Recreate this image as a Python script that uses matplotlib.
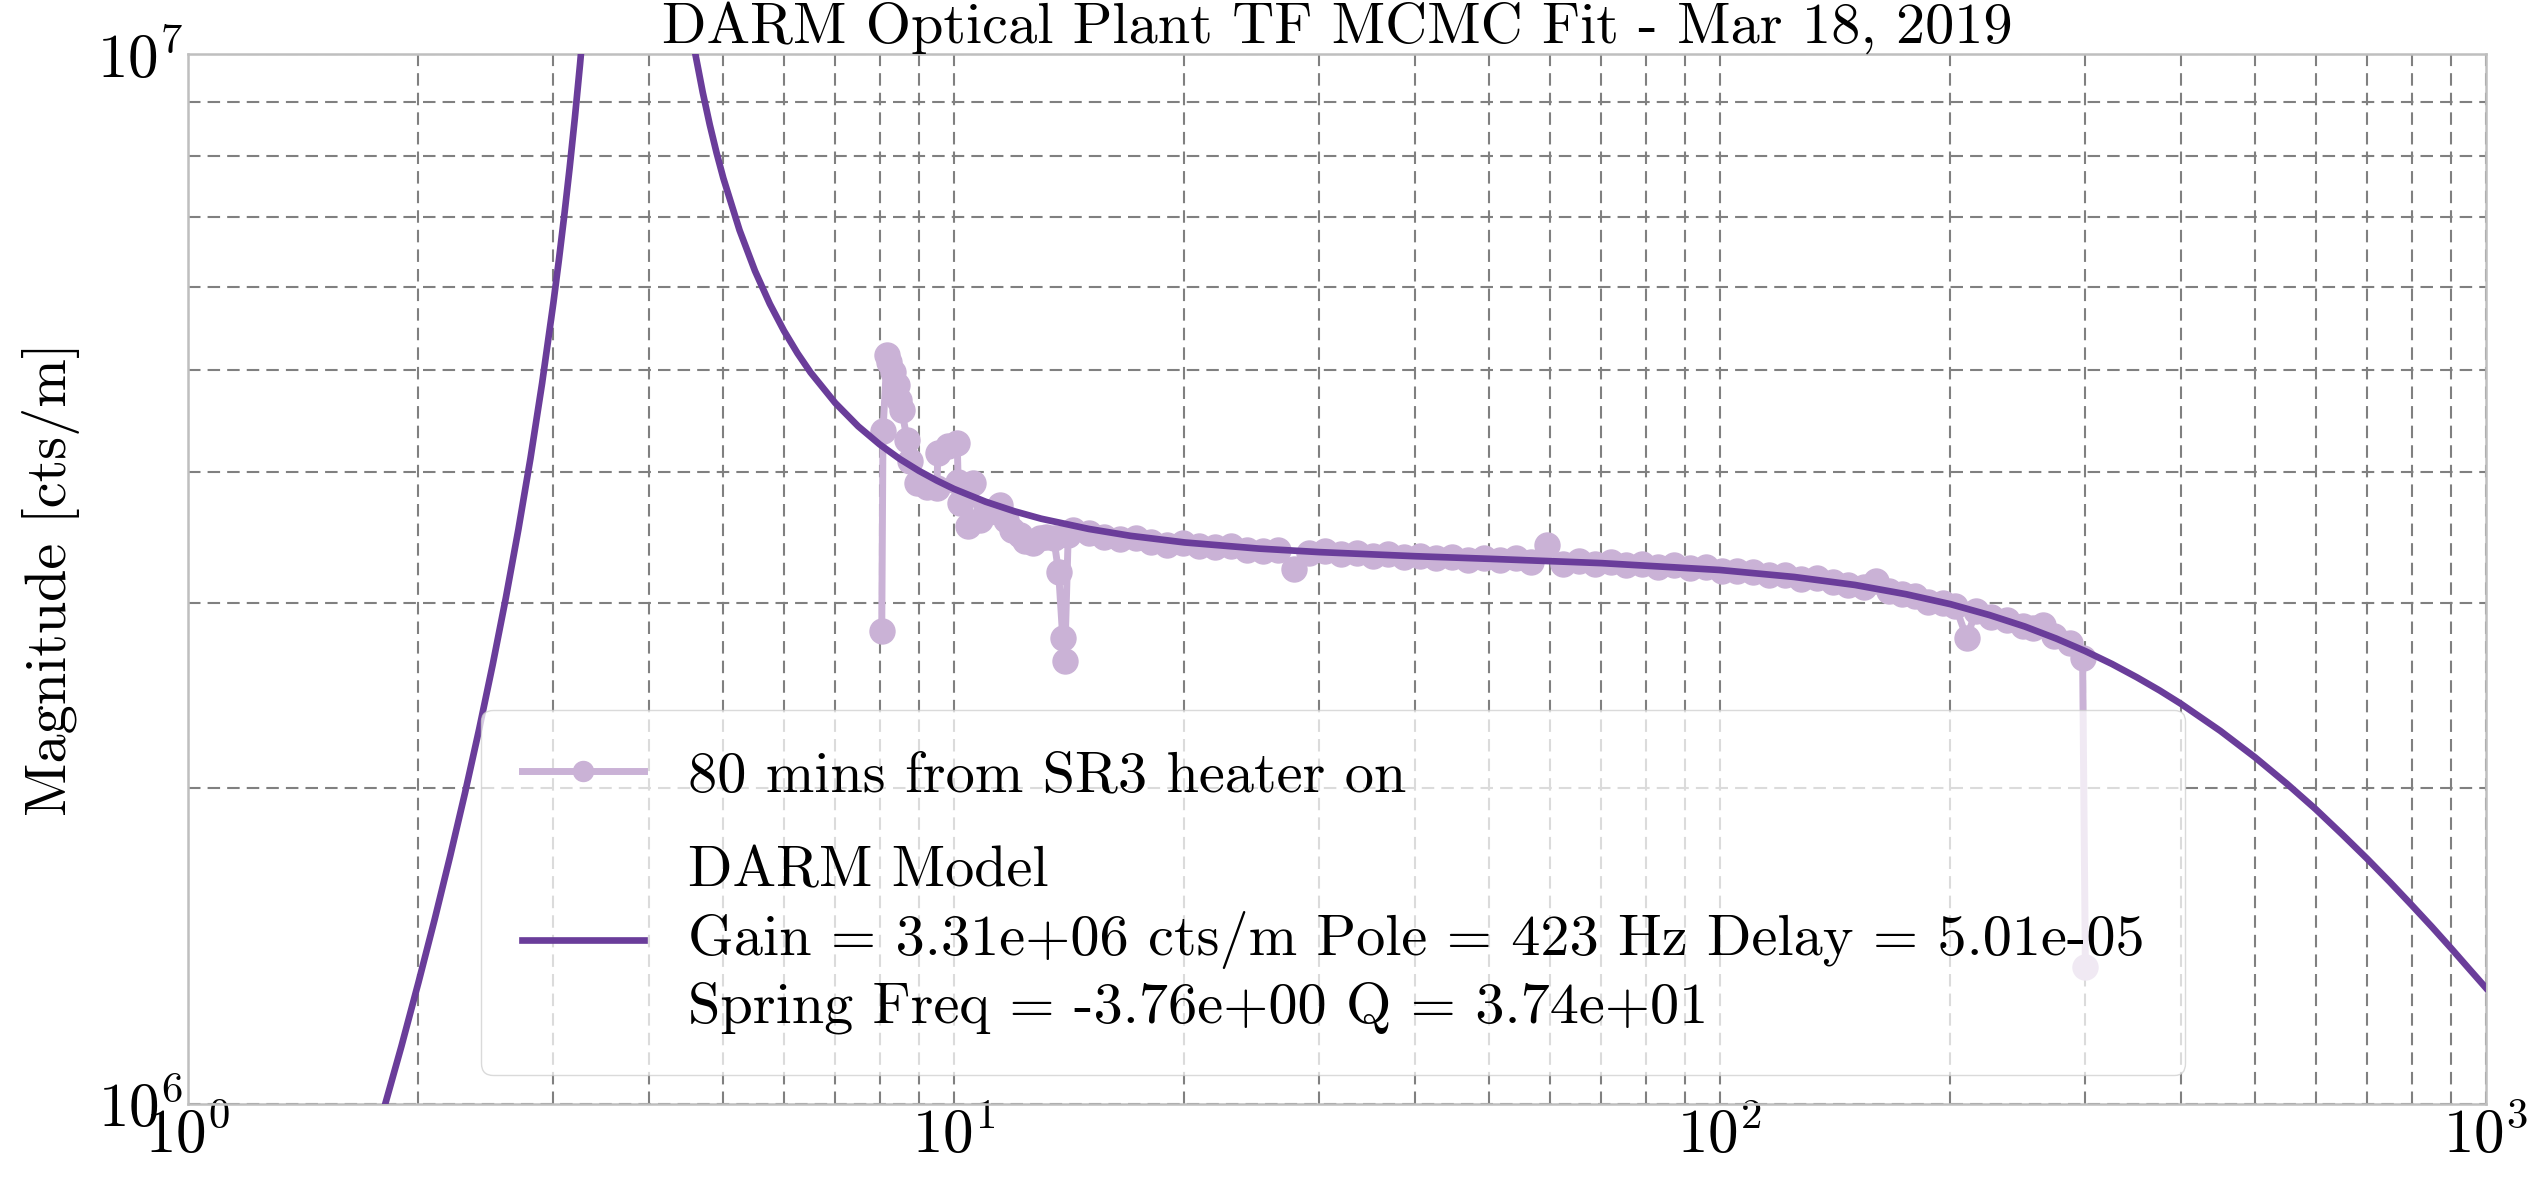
import matplotlib
matplotlib.use("Agg")
import matplotlib.pyplot as plt

# ---- data: measurement (80 mins from SR3 heater on) ----
meas_freq = [8.05, 8.08, 8.18, 8.22, 8.33, 8.43, 8.49, 8.55, 8.69, 8.77, 8.95,
             9.22, 9.50, 9.53, 9.81, 10.1, 10.13, 10.2, 10.42, 10.6, 10.8,
             11.1, 11.48, 11.7, 11.9, 12.2, 12.4, 12.7, 12.95, 13.2, 13.5,
             13.7, 13.87, 13.95, 14.1, 14.3,
             15.0, 15.7, 16.5, 17.3, 18.1, 19.0, 19.9, 20.9, 21.9, 23.0,
             24.1, 25.3, 26.5, 27.8, 29.1, 30.5, 32.0, 33.6, 35.2, 36.9,
             38.7, 40.6, 42.6, 44.7, 46.9, 49.2, 51.6, 54.1, 56.7, 59.5,
             62.4, 65.4, 68.6, 72.0, 75.5, 79.2, 83.1, 87.1, 91.4, 95.8,
             100.5, 105.4, 110.5, 115.9, 121.6, 127.5, 133.7, 140.3, 147.1,
             154.3, 160.0, 166.0, 173.0, 180.0, 187.0, 195.8, 203.0, 210.0,
             216.0, 225.9, 237.0, 248.5, 256.0, 264.0, 273.4, 286.8, 297.5,
             300.0]
meas_mag = [2.82e6, 4.38e6, 5.17e6, 5.09e6, 4.98e6, 4.84e6, 4.68e6, 4.58e6,
            4.29e6, 4.10e6, 3.90e6, 3.87e6, 3.86e6, 4.17e6, 4.23e6, 4.26e6,
            3.91e6, 3.74e6, 3.55e6, 3.90e6, 3.60e6, 3.66e6, 3.72e6, 3.60e6,
            3.52e6, 3.48e6, 3.44e6, 3.42e6, 3.46e6, 3.47e6, 3.46e6, 3.21e6,
            2.78e6, 2.64e6, 3.48e6, 3.52e6,
            3.50e6, 3.47e6, 3.45e6, 3.46e6, 3.43e6, 3.41e6, 3.42e6, 3.40e6,
            3.39e6, 3.40e6, 3.37e6, 3.36e6, 3.37e6, 3.23e6, 3.35e6, 3.36e6,
            3.34e6, 3.35e6, 3.33e6, 3.34e6, 3.32e6, 3.33e6, 3.31e6, 3.32e6,
            3.30e6, 3.31e6, 3.30e6, 3.31e6, 3.28e6, 3.41e6, 3.27e6, 3.29e6,
            3.27e6, 3.28e6, 3.26e6, 3.27e6, 3.25e6, 3.26e6, 3.24e6, 3.25e6,
            3.22e6, 3.22e6, 3.21e6, 3.19e6, 3.19e6, 3.16e6, 3.17e6, 3.14e6,
            3.12e6, 3.11e6, 3.15e6, 3.08e6, 3.06e6, 3.05e6, 3.01e6, 3.00e6,
            2.98e6, 2.78e6, 2.95e6, 2.91e6, 2.89e6, 2.85e6, 2.84e6, 2.86e6,
            2.79e6, 2.75e6, 2.66e6, 1.35e6]

# ---- data: DARM model curve ----
model_freq = [1.0, 1.5, 1.7, 1.9, 2.0, 2.1, 2.2, 2.3, 2.4, 2.5, 2.6, 2.7,
              2.8, 2.9, 3.0, 3.05, 3.1, 3.15, 3.2, 3.25, 3.3, 3.35, 3.4,
              4.3, 4.4, 4.5, 4.6, 4.7, 4.8, 4.9, 5.0, 5.25, 5.5, 5.75, 6.0,
              6.25, 6.5, 7.0, 7.5, 8.0, 8.5, 9.0, 9.5, 10, 11, 12, 13, 15,
              17, 20, 25, 30, 40, 50, 70, 100, 125, 150, 175, 200, 225, 250,
              275, 300, 325, 350, 375, 400, 450, 500, 550, 600, 650, 700,
              750, 800, 850, 900, 950, 1000]
model_mag = [0.252e6, 0.626e6, 0.850e6, 1.135e6, 1.306e6, 1.500e6, 1.723e6,
             1.978e6, 2.275e6, 2.622e6, 3.032e6, 3.523e6, 4.119e6, 4.858e6,
             5.795e6, 6.365e6, 7.022e6, 7.788e6, 8.691e6, 9.773e6, 11.09e6,
             12.73e6, 14.83e6,
             14.07e6, 12.28e6, 10.97e6, 9.977e6, 9.197e6, 8.569e6, 8.052e6,
             7.620e6, 6.797e6, 6.215e6, 5.783e6, 5.451e6, 5.188e6, 4.975e6,
             4.653e6, 4.421e6, 4.249e6, 4.115e6, 4.010e6, 3.925e6, 3.854e6,
             3.747e6, 3.669e6, 3.610e6, 3.530e6, 3.477e6, 3.427e6, 3.381e6,
             3.355e6, 3.325e6, 3.306e6, 3.275e6, 3.226e6, 3.177e6, 3.122e6,
             3.059e6, 2.993e6, 2.922e6, 2.850e6, 2.775e6, 2.700e6, 2.625e6,
             2.550e6, 2.477e6, 2.405e6, 2.267e6, 2.138e6, 2.018e6, 1.908e6,
             1.805e6, 1.712e6, 1.626e6, 1.547e6, 1.475e6, 1.408e6, 1.346e6,
             1.290e6]

meas_label = "80 mins from SR3 heater on"
model_label = ("DARM Model\nGain = 3.31e+06 cts/m Pole = 423 Hz Delay = 5.01e-05\n"
               "Spring Freq = -3.76e+00 Q = 3.74e+01")
title = "DARM Optical Plant TF MCMC Fit - Mar 18, 2019"

plt.rcParams['font.family'] = ['cmr10', 'DejaVu Serif']
plt.rcParams['mathtext.fontset'] = 'cm'
plt.rcParams['axes.formatter.use_mathtext'] = True
plt.rcParams['axes.unicode_minus'] = False

FS = 42
fig = plt.figure(figsize=(25.46, 11.77), dpi=100)
ax = fig.add_axes([0.0738, 0.062, 0.9026, 0.892])

ax.plot(meas_freq, meas_mag, '-o', color='#cab2d6', lw=5, ms=18,
        label=meas_label, zorder=3)
ax.plot(model_freq, model_mag, '-', color='#6a3d9a', lw=4.8,
        label=model_label, zorder=4)

ax.set_xscale('log')
ax.set_yscale('log')
ax.set_xlim(1, 1000)
ax.set_ylim(1e6, 1e7)

ax.grid(True, which='both', color='#808080', lw=1.5, ls=(0, (6.0, 3.4)))
ax.set_axisbelow(True)
ax.tick_params(which='both', length=0, labelsize=FS + 2)
ax.tick_params(axis='x', pad=2)
ax.tick_params(axis='y', pad=3)
for s in ax.spines.values():
    s.set_color('#bfbfbf')
    s.set_linewidth(1.8)

ax.set_ylabel("Magnitude [cts/m]", fontsize=FS, labelpad=12)
ax.set_title(title, fontsize=FS, pad=8)

leg = ax.legend(loc='lower left', bbox_to_anchor=(0.1275, 0.0276),
                borderaxespad=0, fontsize=FS, framealpha=0.72,
                edgecolor='#cccccc', fancybox=True, handlelength=2.1,
                handletextpad=0.75, labelspacing=0.75, borderpad=0.7,
                markerscale=0.8)
for t in leg.get_texts():
    t.set_linespacing(1.31)
leg.set_zorder(10)

fig.savefig("out.png", dpi=100)
